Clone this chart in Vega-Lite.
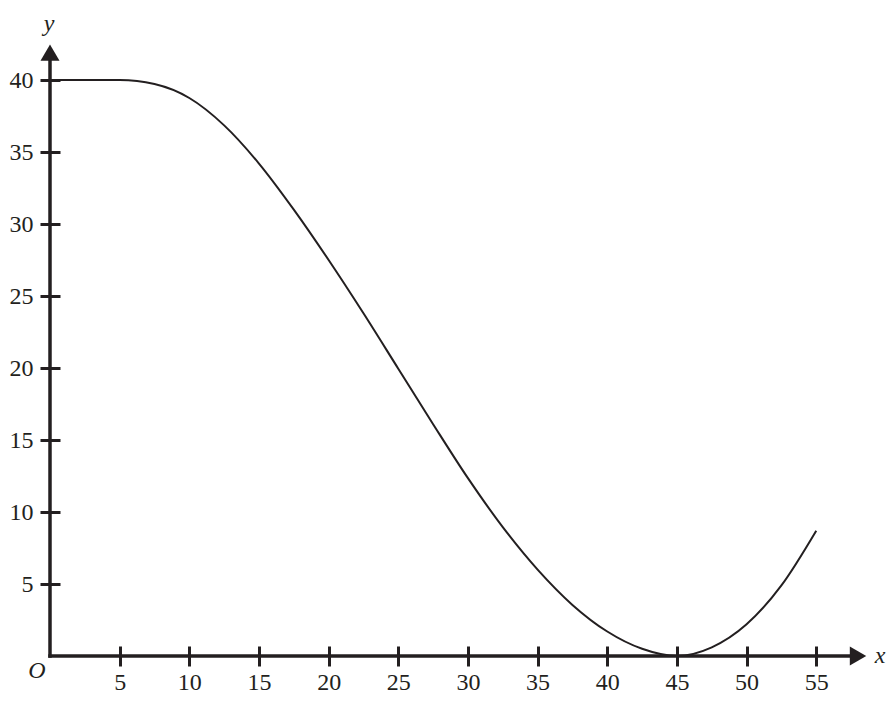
{
  "$schema": "https://vega.github.io/schema/vega-lite/v6.json",
  "width": 815,
  "height": 612,
  "autosize": {"type": "none"},
  "padding": {"left": 50, "top": 44, "right": 30, "bottom": 52},
  "background": "white",
  "config": {"view": {"stroke": null}, "font": "Liberation Serif"},
  "datasets": {
    "curve": [
      {"x": 0, "y": 40},
      {"x": 2.5, "y": 40},
      {"x": 5, "y": 40},
      {"x": 7.5, "y": 39.72},
      {"x": 10, "y": 38.75},
      {"x": 12.5, "y": 36.85},
      {"x": 15, "y": 34.2},
      {"x": 17.5, "y": 31.0},
      {"x": 20, "y": 27.5},
      {"x": 22.5, "y": 23.8},
      {"x": 25, "y": 19.95},
      {"x": 27.5, "y": 16.1},
      {"x": 30, "y": 12.35},
      {"x": 32.5, "y": 8.95},
      {"x": 35, "y": 6.0},
      {"x": 37.5, "y": 3.55},
      {"x": 40, "y": 1.7},
      {"x": 42.5, "y": 0.5},
      {"x": 45, "y": 0},
      {"x": 47.5, "y": 0.6},
      {"x": 50, "y": 2.2},
      {"x": 52.5, "y": 4.9},
      {"x": 55, "y": 8.7}
    ],
    "arrows": [
      {"x": 58.0, "y": 0, "shape": "triangle-right"},
      {"x": 0, "y": 41.9, "shape": "triangle-up"}
    ],
    "names": [
      {"x": 0, "y": 0, "label": "O", "pos": "origin"},
      {"x": 58.5, "y": 0, "label": "x", "pos": "xaxis"},
      {"x": 0, "y": 42.5, "label": "y", "pos": "yaxis"}
    ]
  },
  "layer": [
    {
      "data": {"name": "curve"},
      "mark": {"type": "line", "interpolate": "monotone", "strokeWidth": 2, "color": "#231f20"},
      "encoding": {
        "x": {
          "field": "x", "type": "quantitative",
          "scale": {"domain": [0, 58.5], "nice": false},
          "axis": {
            "values": [5, 10, 15, 20, 25, 30, 35, 40, 45, 50, 55],
            "offset": -10, "tickSize": 20, "tickWidth": 3, "tickColor": "#231f20",
            "domain": false, "grid": false, "title": null,
            "labelFont": "Times New Roman, Liberation Serif, serif", "labelFontSize": 24, "labelColor": "#231f20",
            "labelPadding": 4.5, "labelFlush": false
          }
        },
        "y": {
          "field": "y", "type": "quantitative",
          "scale": {"domain": [0, 42.5], "nice": false},
          "axis": {
            "values": [5, 10, 15, 20, 25, 30, 35, 40],
            "offset": -10, "tickSize": 20, "tickWidth": 3, "tickColor": "#231f20",
            "domain": false, "grid": false, "title": null,
            "labelFont": "Times New Roman, Liberation Serif, serif", "labelFontSize": 24, "labelColor": "#231f20",
            "labelPadding": 7, "labelFlush": false
          }
        }
      }
    },
    {
      "data": {"values": [{}]},
      "mark": {"type": "rule", "strokeWidth": 3.5, "strokeCap": "square", "color": "#231f20"},
      "encoding": {
        "x": {"datum": 0, "type": "quantitative"},
        "x2": {"datum": 58.0},
        "y": {"datum": 0, "type": "quantitative"}
      }
    },
    {
      "data": {"values": [{}]},
      "mark": {"type": "rule", "strokeWidth": 3.5, "strokeCap": "square", "color": "#231f20"},
      "encoding": {
        "x": {"datum": 0, "type": "quantitative"},
        "y": {"datum": 0, "type": "quantitative"},
        "y2": {"datum": 41.9}
      }
    },
    {
      "data": {"name": "arrows"},
      "mark": {"type": "point", "filled": true, "size": 361, "opacity": 1, "color": "#231f20"},
      "encoding": {
        "x": {"field": "x", "type": "quantitative"},
        "y": {"field": "y", "type": "quantitative"},
        "shape": {"field": "shape", "type": "nominal", "scale": null}
      }
    },
    {
      "data": {"name": "names"},
      "transform": [{"filter": "datum.pos == 'origin'"}],
      "mark": {"type": "text", "font": "Times New Roman, Liberation Serif, serif", "fontStyle": "italic", "fontSize": 24, "color": "#231f20", "align": "center", "baseline": "alphabetic", "dx": -13, "dy": 22},
      "encoding": {
        "x": {"field": "x", "type": "quantitative"},
        "y": {"field": "y", "type": "quantitative"},
        "text": {"field": "label"}
      }
    },
    {
      "data": {"name": "names"},
      "transform": [{"filter": "datum.pos == 'xaxis'"}],
      "mark": {"type": "text", "font": "Times New Roman, Liberation Serif, serif", "fontStyle": "italic", "fontSize": 24, "color": "#231f20", "align": "center", "baseline": "alphabetic", "dx": 15, "dy": 7},
      "encoding": {
        "x": {"field": "x", "type": "quantitative"},
        "y": {"field": "y", "type": "quantitative"},
        "text": {"field": "label"}
      }
    },
    {
      "data": {"name": "names"},
      "transform": [{"filter": "datum.pos == 'yaxis'"}],
      "mark": {"type": "text", "font": "Times New Roman, Liberation Serif, serif", "fontStyle": "italic", "fontSize": 24, "color": "#231f20", "align": "center", "baseline": "alphabetic", "dx": -1, "dy": -13},
      "encoding": {
        "x": {"field": "x", "type": "quantitative"},
        "y": {"field": "y", "type": "quantitative"},
        "text": {"field": "label"}
      }
    }
  ]
}
